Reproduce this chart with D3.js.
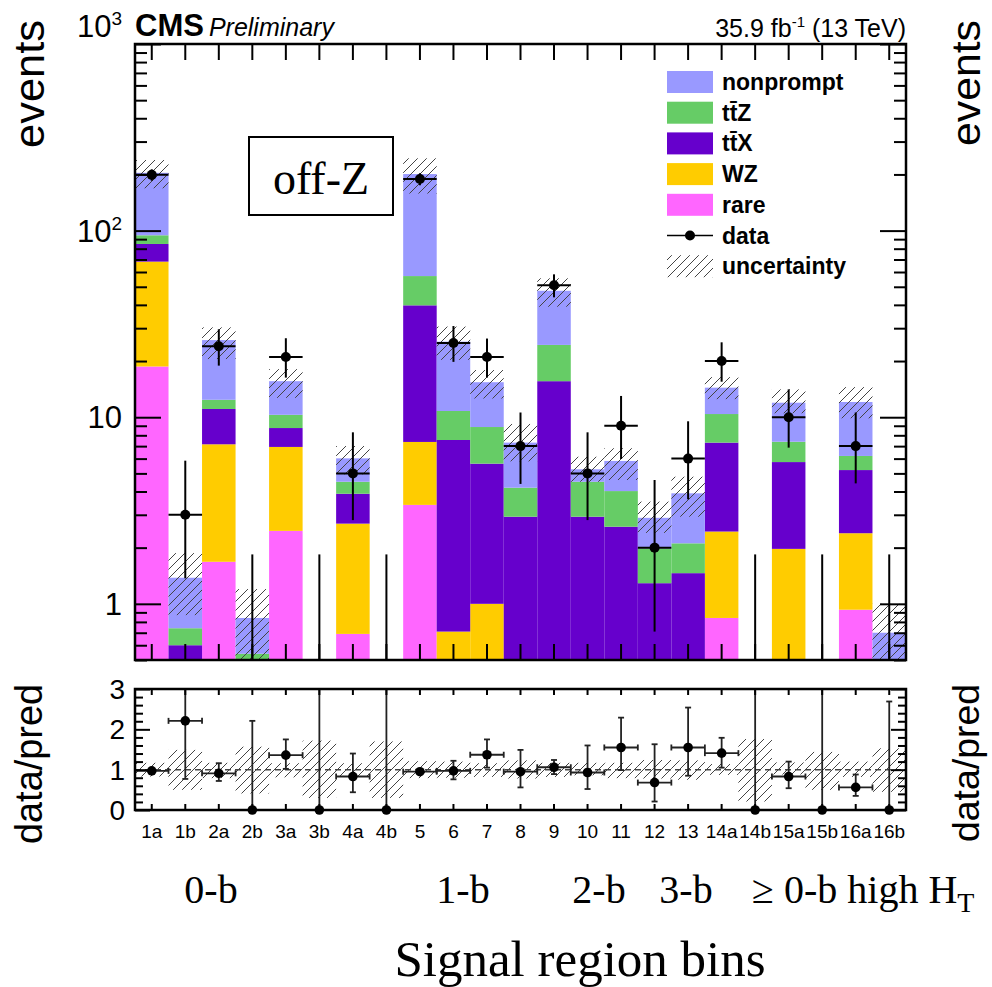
<!DOCTYPE html>
<html><head><meta charset="utf-8">
<script src="https://cdn.jsdelivr.net/npm/d3@7"></script>
<style>
body{margin:0;background:#fff}
svg{display:block}
text{font-family:"Liberation Sans",Arial,Helvetica,sans-serif;fill:#000}
.serif{font-family:"Liberation Serif","Times New Roman",serif}
</style>
</head><body>
<svg id="c" width="992" height="987"></svg>
<script>
// ---------------- data ----------------
const bins = ["1a","1b","2a","2b","3a","3b","4a","4b","5","6","7","8","9","10","11","12","13","14a","14b","15a","15b","16a","16b"];
const rare      = [18.7,0.05,1.68,0.05,2.46,0.05,0.69,0.05,3.39,0.15,0.2,0.1,0.1,0.1,0.1,0.1,0.1,0.84,0.05,0.3,0.05,0.93,0.05];
const wz        = [49.5,0.05,5.48,0.1,4.47,0.15,2.0,0.15,3.98,0.56,0.8,0.15,0.15,0.15,0.15,0.1,0.1,1.6,0.1,1.67,0.1,1.46,0.05];
const ttx       = [16.6,0.5,3.91,0.2,1.82,0.05,1.2,0.03,32.4,6.84,4.64,2.68,15.35,2.68,2.34,1.09,1.26,4.87,0.05,3.78,0.05,2.82,0.2];
const ttz       = [9.6,0.14,1.33,0.19,1.55,0.05,0.62,0.02,17.3,3.25,3.22,1.26,8.8,1.58,1.43,0.69,0.65,3.09,0.05,1.64,0.05,0.99,0.1];
const nonprompt = [109.6,0.64,13.5,0.3,5.3,0.1,1.51,0.05,143.9,14.6,6.54,3.12,23.2,0.75,1.81,0.91,1.8,4.0,0.05,4.57,0.05,5.87,0.3];
// uncertainty band on the prediction (main panel)
const uncLo = [168.6,0.87,20.5,0.45,12.7,0.1,4.94,0.1,158,20.3,12.6,5.8,39.1,4.51,4.61,2.40,2.93,12.5,0.1,10.5,0.1,9.87,0.45];
const uncHi = [239,1.87,30.3,1.2,18.1,0.45,7.01,0.45,244,30.6,17.9,9.2,55.5,6.14,6.82,3.53,4.80,16.4,0.45,14.1,0.45,14.5,1.0];
// observed data
const dataN  = [199,3,24,0,21,0,5,0,189,25,21,7,51,5,9,2,6,20,0,10,0,7,0];
const dataLo = [185,1.37,18.9,0,16.3,0,2.81,0,175,19.8,16.3,4.39,43.9,2.81,5.97,0.71,3.63,15.5,0,6.87,0,4.42,0];
const dataHi = [213,5.85,29.6,1.84,26.5,1.84,8.3,1.84,203,30.8,26.4,10.6,58.3,8.3,13.0,4.61,9.51,25.2,1.84,14.1,1.84,10.6,1.84];
// ratio panel
const ratio   = [0.97,2.21,0.91,0,1.36,0,0.83,0,0.95,0.97,1.37,0.95,1.06,0.93,1.55,0.68,1.55,1.41,0,0.83,0,0.56,0];
const ratioLo = [0.93,0.77,0.72,0,1.02,0,0.44,0,0.89,0.76,1.05,0.56,0.89,0.52,0.99,0.21,0.85,1.05,0,0.54,0,0.35,0];
const ratioHi = [1.03,4.3,1.16,2.21,1.75,4.5,1.40,5.0,1.02,1.22,1.75,1.49,1.24,1.6,2.29,1.63,2.54,1.79,5.0,1.2,5.0,0.88,2.69];
const rUncLo  = [0.83,0.50,0.79,0.41,0.81,0.30,0.82,0.30,0.79,0.80,0.82,0.78,0.82,0.86,0.79,0.78,0.75,0.87,0.21,0.88,0.50,0.82,0.45];
const rUncHi  = [1.17,1.49,1.17,1.57,1.16,1.72,1.16,1.70,1.21,1.20,1.16,1.23,1.17,1.17,1.17,1.24,1.23,1.14,1.76,1.18,1.44,1.20,1.53];
const yMajor = [1,10,100,1000];
const ratioMajor = [0,1,2,3];

const seriesKeys = ["rare","wz","ttx","ttz","nonprompt"];
const seriesArrays = {rare, wz, ttx, ttz, nonprompt};
const colors = {nonprompt:"#9999ff", ttz:"#66cc66", ttx:"#6600cc", wz:"#ffcc00", rare:"#ff66ff"};
const legendItems = [
  {key:"nonprompt", label:"nonprompt"},
  {key:"ttz", label:"tt\u0304Z"},
  {key:"ttx", label:"tt\u0304X"},
  {key:"wz", label:"WZ"},
  {key:"rare", label:"rare"}
];

// ---------------- layout ----------------
const L = 135, R = 906, T = 44, B = 660, RT = 689, RB = 810;
const svg = d3.select("#c");
const defs = svg.append("defs");
const pat = defs.append("pattern").attr("id","hatch").attr("patternUnits","userSpaceOnUse")
  .attr("width",9).attr("height",9);
pat.append("path").attr("d","M-1,1 l2,-2 M0,9 l9,-9 M8,10 l2,-2")
  .attr("stroke","#444").attr("stroke-width",1);
defs.append("clipPath").attr("id","clipMain").append("rect").attr("x",L).attr("y",T).attr("width",R-L).attr("height",B-T);
defs.append("clipPath").attr("id","clipRatio").append("rect").attr("x",L).attr("y",RT).attr("width",R-L).attr("height",RB-RT);

const x = d3.scaleBand().domain(bins).range([L,R]).padding(0);
const y = d3.scaleLog().domain([0.5,1000]).range([B,T]);
const yv = v => y(Math.max(v,0.5));
const yr = d3.scaleLinear().domain([0,3]).range([RB,RT]);
const yrv = v => yr(Math.max(0,Math.min(3,v)));
const cx = b => x(b) + x.bandwidth()/2;

// stacked bars
const rows = bins.map((b,i)=>{const o={bin:b}; seriesKeys.forEach(k=>o[k]=seriesArrays[k][i]); return o;});
const stack = d3.stack().keys(seriesKeys)(rows);
const gMain = svg.append("g").attr("clip-path","url(#clipMain)");
stack.forEach(layer=>{
  gMain.append("g").selectAll("rect").data(layer).join("rect")
    .attr("x",d=>x(d.data.bin)).attr("width",x.bandwidth())
    .attr("y",d=>yv(d[1])).attr("height",d=>Math.max(0,yv(d[0])-yv(d[1])))
    .attr("fill",colors[layer.key]);
});
// uncertainty hatch
gMain.append("g").selectAll("rect").data(bins).join("rect")
  .attr("x",b=>x(b)).attr("width",x.bandwidth())
  .attr("y",(b,i)=>yv(uncHi[i])).attr("height",(b,i)=>Math.max(0,yv(uncLo[i])-yv(uncHi[i])))
  .attr("fill","url(#hatch)");
// data points
const gData = svg.append("g").attr("clip-path","url(#clipMain)");
bins.forEach((b,i)=>{
  gData.append("line").attr("x1",cx(b)).attr("x2",cx(b)).attr("y1",yv(dataLo[i])).attr("y2",yv(dataHi[i]))
    .attr("stroke","#000").attr("stroke-width",2);
  if(dataN[i]>0){
    gData.append("line").attr("x1",x(b)).attr("x2",x(b)+x.bandwidth()).attr("y1",y(dataN[i])).attr("y2",y(dataN[i]))
      .attr("stroke","#000").attr("stroke-width",2);
    gData.append("circle").attr("cx",cx(b)).attr("cy",y(dataN[i])).attr("r",5).attr("fill","#000");
  }
});

// axes main
function ticks(g, axis){ g.call(axis); g.select(".domain").remove(); g.selectAll("line").attr("stroke","#000").attr("stroke-width",2); g.selectAll("text").remove(); }
const yMinor = [];
[0.1,1,10,100].forEach(d=>{for(let k=2;k<=9;k++){const v=k*d; if(v>=0.5&&v<1000) yMinor.push(v);}});
ticks(svg.append("g").attr("transform",`translate(${L},0)`), d3.axisRight(y).tickValues(yMajor).tickSize(26));
ticks(svg.append("g").attr("transform",`translate(${L},0)`), d3.axisRight(y).tickValues(yMinor).tickSize(12));
ticks(svg.append("g").attr("transform",`translate(${R},0)`), d3.axisLeft(y).tickValues(yMajor).tickSize(26));
ticks(svg.append("g").attr("transform",`translate(${R},0)`), d3.axisLeft(y).tickValues(yMinor).tickSize(12));
ticks(svg.append("g").attr("transform",`translate(0,${T})`), d3.axisBottom(x).tickSize(16));
ticks(svg.append("g").attr("transform",`translate(0,${B})`), d3.axisTop(x).tickSize(16));
svg.append("rect").attr("x",L).attr("y",T).attr("width",R-L).attr("height",B-T).attr("fill","none").attr("stroke","#000").attr("stroke-width",2.5);

// y tick labels main
yMajor.forEach(v=>{
  const t = svg.append("text").attr("x",122).attr("y",y(v)+11 - (v===1000?18:0)).attr("text-anchor","end").attr("font-size",31);
  if(v<100){ t.text(String(v)); }
  else { t.text("10"); t.append("tspan").attr("font-size",19).attr("dy",-12).text(String(Math.round(Math.log10(v)))); }
});

// ratio panel
const gR = svg.append("g").attr("clip-path","url(#clipRatio)");
gR.append("g").selectAll("rect").data(bins).join("rect")
  .attr("x",b=>x(b)).attr("width",x.bandwidth())
  .attr("y",(b,i)=>yrv(rUncHi[i])).attr("height",(b,i)=>yrv(rUncLo[i])-yrv(rUncHi[i]))
  .attr("fill","url(#hatch)");
gR.append("line").attr("x1",L).attr("x2",R).attr("y1",yr(1)).attr("y2",yr(1))
  .attr("stroke","#444").attr("stroke-width",1.5).attr("stroke-dasharray","6,4");
const gRD = svg.append("g");
bins.forEach((b,i)=>{
  const c = cx(b);
  gRD.append("line").attr("x1",c).attr("x2",c).attr("y1",yrv(ratioLo[i])).attr("y2",yrv(ratioHi[i]))
    .attr("stroke","#222").attr("stroke-width",1.8);
  if(ratioHi[i]<=3) gRD.append("line").attr("x1",c-3).attr("x2",c+3).attr("y1",yr(ratioHi[i])).attr("y2",yr(ratioHi[i])).attr("stroke","#222").attr("stroke-width",1.8);
  if(ratio[i]>0){
    gRD.append("line").attr("x1",c-3).attr("x2",c+3).attr("y1",yr(ratioLo[i])).attr("y2",yr(ratioLo[i])).attr("stroke","#222").attr("stroke-width",1.8);
    gRD.append("line").attr("x1",x(b)).attr("x2",x(b)+x.bandwidth()).attr("y1",yr(ratio[i])).attr("y2",yr(ratio[i])).attr("stroke","#222").attr("stroke-width",1.8);
    [x(b),x(b)+x.bandwidth()].forEach(xe=>gRD.append("line").attr("x1",xe).attr("x2",xe).attr("y1",yr(ratio[i])-3).attr("y2",yr(ratio[i])+3).attr("stroke","#222").attr("stroke-width",1.8));
  }
  gRD.append("circle").attr("cx",c).attr("cy",yr(ratio[i])).attr("r",4.8).attr("fill","#000");
});
const rMinor = d3.range(0,3.001,0.2).filter(v=>Math.abs(v-Math.round(v))>1e-6);
ticks(svg.append("g").attr("transform",`translate(${L},0)`), d3.axisRight(yr).tickValues(ratioMajor).tickSize(15));
ticks(svg.append("g").attr("transform",`translate(${L},0)`), d3.axisRight(yr).tickValues(rMinor).tickSize(8));
ticks(svg.append("g").attr("transform",`translate(${R},0)`), d3.axisLeft(yr).tickValues(ratioMajor).tickSize(15));
ticks(svg.append("g").attr("transform",`translate(${R},0)`), d3.axisLeft(yr).tickValues(rMinor).tickSize(8));
ticks(svg.append("g").attr("transform",`translate(0,${RT})`), d3.axisBottom(x).tickSize(6));
ticks(svg.append("g").attr("transform",`translate(0,${RB})`), d3.axisTop(x).tickSize(6));
svg.append("rect").attr("x",L).attr("y",RT).attr("width",R-L).attr("height",RB-RT).attr("fill","none").attr("stroke","#000").attr("stroke-width",2.5);
ratioMajor.forEach(v=>svg.append("text").attr("x",125).attr("y",yr(v)+10).attr("text-anchor","end").attr("font-size",28).text(String(v)));
bins.forEach(b=>svg.append("text").attr("x",cx(b)).attr("y",838).attr("text-anchor","middle").attr("font-size",19).text(b));

// legend
const lg = svg.append("g");
const rowY = i => 82 + i*30.7;
legendItems.forEach((it,i)=>{
  lg.append("rect").attr("x",667).attr("y",rowY(i)-11).attr("width",46).attr("height",22).attr("fill",colors[it.key]);
  lg.append("text").attr("x",722).attr("y",rowY(i)+8).attr("font-size",23).attr("font-weight","bold").text(it.label);
});
lg.append("line").attr("x1",667).attr("x2",713).attr("y1",rowY(5)).attr("y2",rowY(5)).attr("stroke","#000").attr("stroke-width",1.5);
lg.append("circle").attr("cx",690).attr("cy",rowY(5)).attr("r",5).attr("fill","#000");
lg.append("text").attr("x",722).attr("y",rowY(5)+8).attr("font-size",23).attr("font-weight","bold").text("data");
lg.append("rect").attr("x",667).attr("y",rowY(6)-11).attr("width",46).attr("height",22).attr("fill","url(#hatch)");
lg.append("text").attr("x",722).attr("y",rowY(6)+8).attr("font-size",23).attr("font-weight","bold").text("uncertainty");

// off-Z box
svg.append("rect").attr("x",249).attr("y",137).attr("width",144).attr("height",78).attr("fill","#fff").attr("stroke","#000").attr("stroke-width",2);
svg.append("text").attr("class","serif").attr("x",321).attr("y",194).attr("text-anchor","middle").attr("font-size",46).text("off-Z");

// header
const h = svg.append("text").attr("x",135).attr("y",36);
h.append("tspan").attr("font-size",31).attr("font-weight","bold").text("CMS");
h.append("tspan").attr("dx",5).attr("font-size",25).attr("font-style","italic").text("Preliminary");
const lumi = svg.append("text").attr("x",906).attr("y",37).attr("text-anchor","end").attr("font-size",25);
lumi.append("tspan").text("35.9 fb");
lumi.append("tspan").attr("font-size",15).attr("dy",-10).text("-1");
lumi.append("tspan").attr("dy",10).text(" (13 TeV)");

// axis titles
function vtitle(xp, yTop, txt, fs, len){
  svg.append("text").attr("transform",`translate(${xp},${yTop}) rotate(-90)`).attr("text-anchor","end")
    .attr("font-size",fs).attr("textLength",len).attr("lengthAdjust","spacingAndGlyphs").text(txt);
}
vtitle(44, 20, "events", 42, 128);
vtitle(980, 20, "events", 40, 126);
vtitle(42, 684, "data/pred", 38, 160);
vtitle(979, 684, "data/pred", 36, 158);

// region labels
const reg = [["0-b",211],["1-b",463],["2-b",599],["3-b",686]];
reg.forEach(([t,xp])=>svg.append("text").attr("class","serif").attr("x",xp).attr("y",903).attr("text-anchor","middle").attr("font-size",40).text(t));
const ht = svg.append("text").attr("class","serif").attr("x",752).attr("y",903).attr("font-size",40);
ht.append("tspan").text("\u2265 0-b high H");
ht.append("tspan").attr("font-size",28).attr("dy",9).text("T");
svg.append("text").attr("class","serif").attr("x",580).attr("y",976).attr("text-anchor","middle").attr("font-size",51).text("Signal region bins");
</script>
</body></html>
